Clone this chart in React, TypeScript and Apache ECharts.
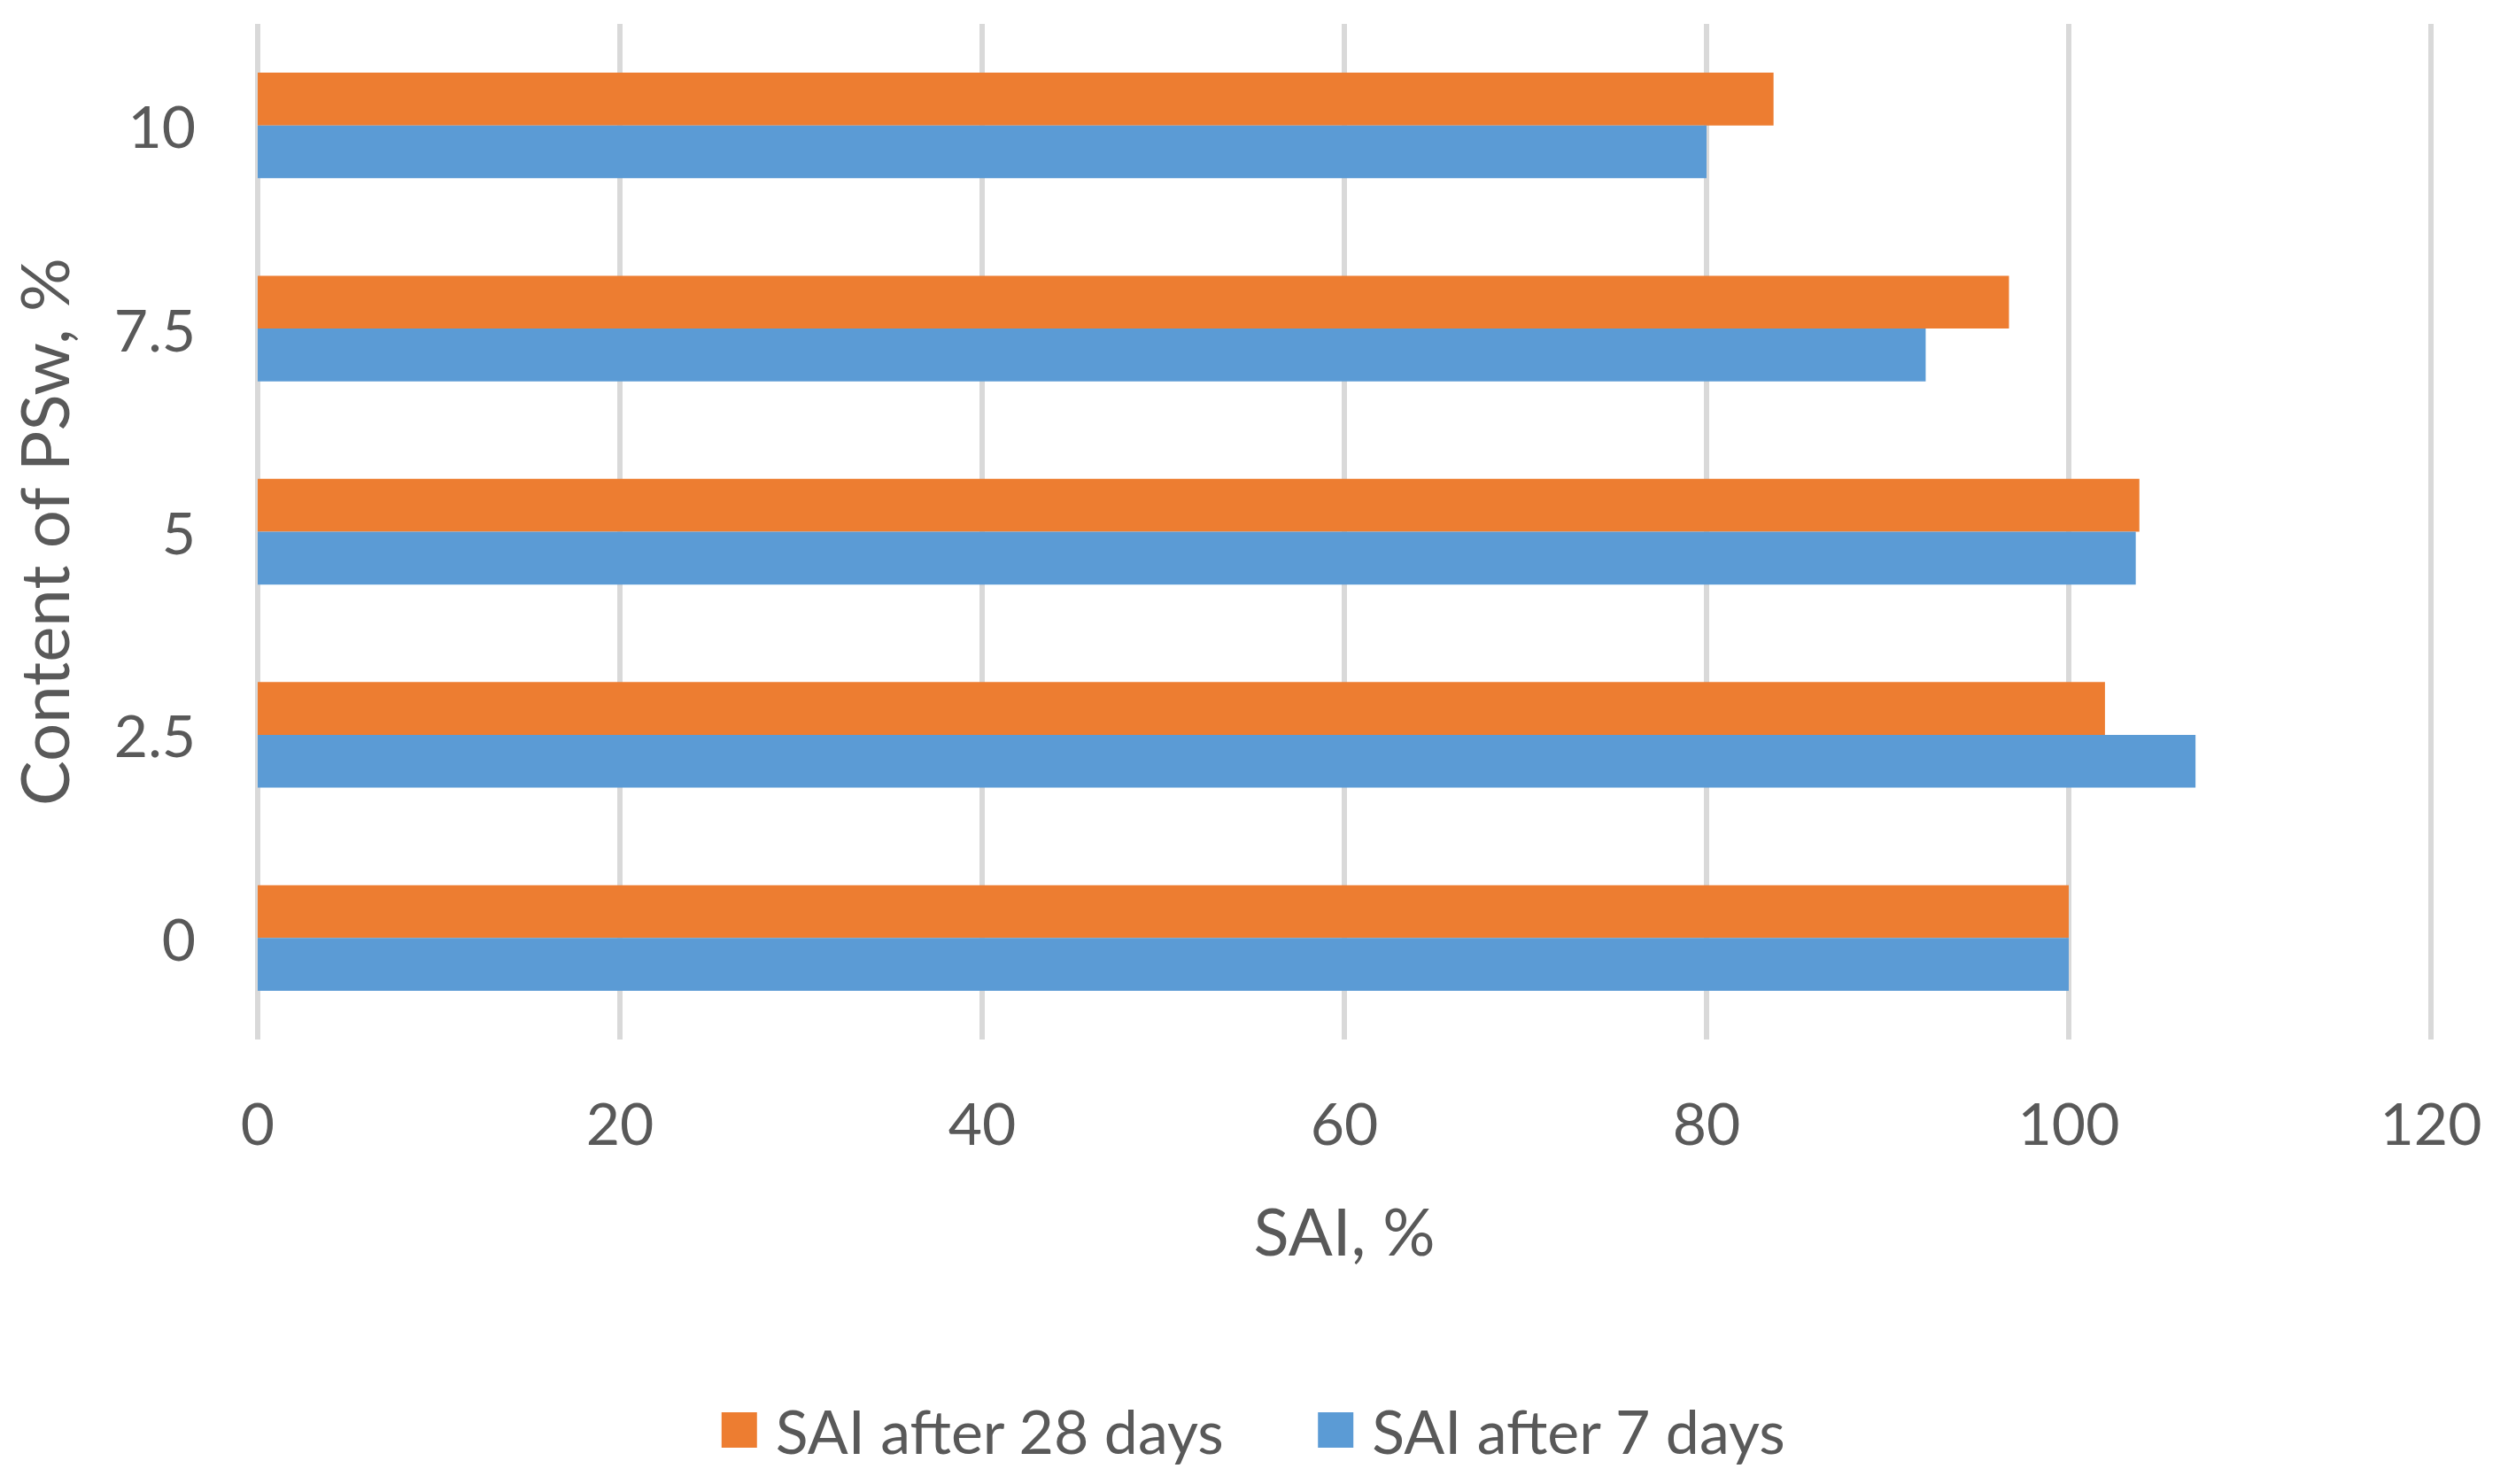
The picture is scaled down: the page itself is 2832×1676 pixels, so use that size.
import React, { useEffect, useRef } from "react";
import * as echarts from "echarts";

const categories = ["0", "2.5", "5", "7.5", "10"];
const sai28 = [100.0, 102.0, 103.9, 96.7, 83.7];
const sai7 = [100.0, 107.0, 103.7, 92.1, 80.0];
const xTicks = [0, 20, 40, 60, 80, 100, 120];

const FONT = "Lato";
const TEXT = "#595959";

export default function App() {
  const ref = useRef<HTMLDivElement>(null);
  useEffect(() => {
    document.body.style.margin = "0";
    const chart = echarts.init(ref.current!, null, { renderer: "svg" });
    chart.setOption({
      animation: false,
      backgroundColor: "#ffffff",
      textStyle: { fontFamily: FONT, color: TEXT },
      grid: { left: 291, right: 87, top: 27, bottom: 502, containLabel: false },
      legend: {
        bottom: 22,
        left: "center",
        itemWidth: 40,
        itemHeight: 40,
        itemGap: 105,
        icon: "rect",
        data: ["SAI after 28 days", "SAI after 7 days"],
        textStyle: { fontFamily: FONT, fontSize: 68, color: TEXT, padding: [0, 0, 0, 16] },
      },
      xAxis: {
        type: "value",
        min: xTicks[0],
        max: xTicks[xTicks.length - 1],
        interval: 20,
        name: "SAI, %",
        nameLocation: "middle",
        nameGap: 178,
        nameTextStyle: { fontFamily: FONT, fontSize: 74, color: TEXT },
        axisLine: { show: false },
        axisTick: { show: false },
        axisLabel: { fontFamily: FONT, fontSize: 66, color: TEXT, margin: 60 },
        splitLine: { show: true, lineStyle: { color: "#D9D9D9", width: 6 } },
      },
      yAxis: {
        type: "category",
        data: categories,
        name: "Content of PSw, %",
        nameLocation: "middle",
        nameGap: 205,
        nameTextStyle: { fontFamily: FONT, fontSize: 76, color: TEXT },
        axisLine: { show: false },
        axisTick: { show: false },
        axisLabel: { fontFamily: FONT, fontSize: 66, color: TEXT, margin: 70 },
      },
      series: [
        {
          name: "SAI after 28 days",
          type: "bar",
          data: sai28,
          itemStyle: { color: "#ED7D31" },
          barGap: "0%",
          barCategoryGap: "48%",
        },
        {
          name: "SAI after 7 days",
          type: "bar",
          data: sai7,
          itemStyle: { color: "#5B9BD5" },
          barGap: "0%",
          barCategoryGap: "48%",
        },
      ],
    });
    return () => chart.dispose();
  }, []);
  return <div ref={ref} style={{ width: 2832, height: 1676 }} />;
}
